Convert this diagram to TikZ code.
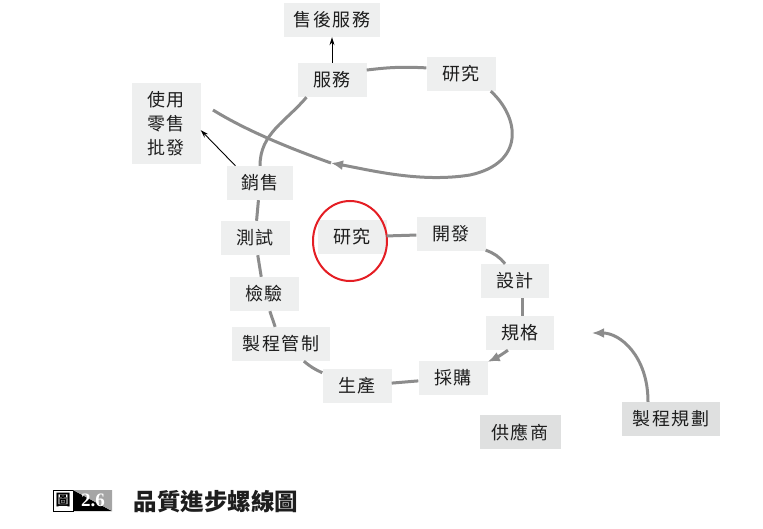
\documentclass[tikz,border=0pt]{standalone}
\usepackage{fontspec}
\usetikzlibrary{arrows.meta}
\newfontfamily\cjk{Noto Sans CJK TC}[LetterSpace=8]
\newfontfamily\cjkcap{Noto Sans CJK TC}
\newfontfamily\numfont{Liberation Serif}
\definecolor{boxgray}{RGB}{238,239,239}
\definecolor{boxdark}{RGB}{223,224,224}
\definecolor{spiral}{RGB}{140,140,140}
\definecolor{ink}{RGB}{30,30,30}
\definecolor{ringred}{RGB}{228,30,36}
\definecolor{labelgray}{RGB}{165,165,165}

\begin{document}
\begin{tikzpicture}[x=1pt, y=1pt,
    box/.style={fill=boxgray, text=ink, font=\cjk\fontsize{18}{24}\selectfont,
                minimum width=69pt, minimum height=34pt, inner sep=0pt},
    flow/.style={draw=spiral, line width=3pt},
    tip/.style={-{Latex[length=12pt,width=10pt]}},
    note/.style={draw=black, line width=0.9pt, -{Stealth[length=8pt,width=5pt]}}]

                \useasboundingbox (0,0) rectangle (763,528);

                \node [box, minimum width=96pt] (shfw) at (332,508) {售後服務};
                \node [box] (fw) at (332,448) {服務};
                \node [box] (rs1) at (461,454) {研究};
                \node [box, minimum height=81pt, align=center] (sy) at (166,404) {使用\\零售\\批發};
                \node [box, minimum width=66pt] (xs) at (260,345) {銷售};
                \node [box] (cs) at (255,290) {測試};
                \node [box] (rs2) at (352,291) {研究};
                \node [box] (kf) at (451,294) {開發};
                \node [box, minimum width=68pt] (sj) at (515,247) {設計};
                \node [box, minimum width=68pt] (gg) at (520,195) {規格};
                \node [box] (cg) at (453,150) {採購};
                \node [box] (sc) at (357,142) {生產};
                \node [box, minimum width=98pt] (zg) at (281,184) {製程管制};
                \node [box] (jy) at (264,234) {檢驗};
                \node [box, fill=boxdark, minimum width=81pt] (gys) at (520,96) {供應商};
                \node [box, fill=boxdark, minimum width=98pt] (gh) at (671,109) {製程規劃};

                \draw [ringred, line width=2pt] (350,287) ellipse [x radius=37, y radius=40];

                \draw [flow] (rs2) -- (kf);
                \draw [flow] (kf.-25) to[bend left=15] (sj.120);
                \draw [flow] ([xshift=7pt]sj.south) -- ([xshift=2pt]gg.north);
                \draw [flow, tip] (gg.235) to[bend left=5] (cg.25);
                \draw [flow] (cg) -- (sc);
                \draw [flow] (sc) to[bend left=8] (zg);
                \draw [flow] (zg) -- (jy);
                \draw [flow] (jy) -- (cs);
                \draw [flow] (cs) -- (xs);
                \draw [flow] (xs.north) to[out=90, in=230] (fw.214);
                \draw [flow] (fw.16) to[bend left=5] (rs1.170);

                \coordinate (loopmid) at (331,365);
                \coordinate (loopend) at (213,418);
                \draw [flow, tip] (rs1.-30) .. controls (520,410) and (525,365) .. (470,353)
                                  .. controls (420,345) and (370,358) .. (loopmid);
                \draw [flow] (loopmid) .. controls (300,376) and (250,395) .. (loopend);

                \coordinate (ghtip) at (592,195);
                \draw [flow, tip] ([xshift=-23pt]gh.north) .. controls (648,172) and (620,195) .. (ghtip);

                \draw [note] (fw) -- (shfw);
                \draw [note] (xs.145) -- (sy.-10);

                \node [draw=black, line width=0.8pt, fill=white, minimum width=20pt, minimum height=21pt,
                       inner sep=0pt, font=\cjkcap\bfseries\fontsize{15}{15}\selectfont] (tulabel) at (63,27.5) {圖};
                \fill [black] (73,38) -- (73,17) -- (112,17) -- cycle;
                \fill [labelgray] (73,38) -- (112,38) -- (112,17) -- cycle;
                \node [text=white, font=\numfont\bfseries\fontsize{19}{19}\selectfont] (tunum) at (93,27.5) {2.6};
                \node [anchor=west, text=ink, font=\cjkcap\bfseries\fontsize{23.5}{24}\selectfont] (title) at (130,26) {品質進步螺線圖};
            \end{tikzpicture}
\end{document}
